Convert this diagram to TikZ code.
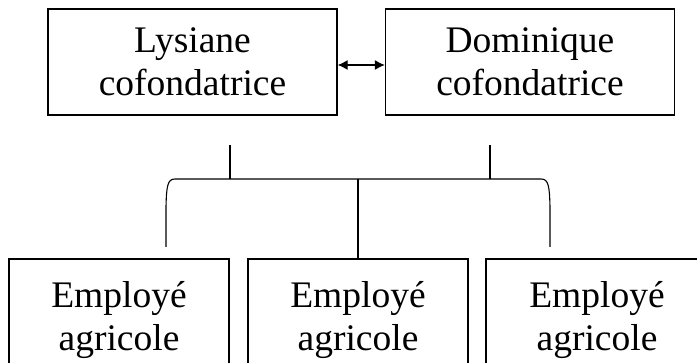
\documentclass[tikz,border=0pt]{standalone}
\usepackage{fontspec}
\setmainfont{Liberation Serif}
\usetikzlibrary{arrows.meta}
\begin{document}
\begin{tikzpicture}[x=1pt,y=1pt,
  >={Latex[length=10pt,width=10pt]},
  box/.style={draw, line width=1.4pt, inner sep=0pt, align=center,
    font=\fontsize{37.5}{43}\selectfont},
  topbox/.style={box, minimum width=289pt, minimum height=106pt},
  botbox/.style={box, minimum width=220pt, minimum height=114pt, text depth=0pt},
  conn/.style={line width=1.1pt}]
\useasboundingbox (0,0) rectangle (697,362);
\begin{scope}
\clip (0,0) rectangle (697,362);
\node[topbox] (L) at (192.5,300) {Lysiane\\cofondatrice};
\node[topbox] (D) at (530,300) {Dominique\\cofondatrice};
\node[botbox] (E1) at (119,46) {Employé\\agricole};
\node[botbox] (E2) at (358,46) {Employé\\agricole};
\node[botbox, minimum width=222pt] (E3) at (597,46) {Employé\\agricole};

\coordinate (sL) at (230,217);
\coordinate (sLb) at (230,183);
\coordinate (sD) at (490,217);
\coordinate (sDb) at (490,183);
\coordinate (hub) at (358,183);
\coordinate (b1) at (166,115);
\coordinate (b3) at (550,115);

\draw[conn, <->] ([yshift=-3pt]L.east) -- ([yshift=-3pt]D.west);
\draw[conn] (sL) -- (sLb);
\draw[conn] (sD) -- (sDb);
\draw[conn] (b1) -- (166,155) .. controls (166.5,176) and (167.5,183) .. (175,183)
  -- (541,183) .. controls (548.5,183) and (549.5,176) .. (550,155) -- (b3);
\draw[conn] (hub) -- (E2.north);
\end{scope}
\end{tikzpicture}
\end{document}
